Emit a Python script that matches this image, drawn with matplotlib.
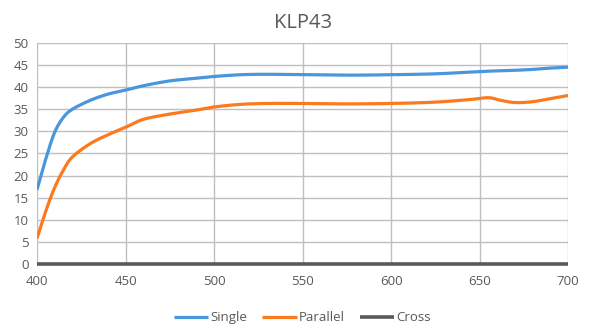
import matplotlib.pyplot as plt
import numpy as np

plt.rcParams['font.family'] = ['Open Sans', 'DejaVu Sans']

# Wavelength samples (nm)
wl = [400, 405, 410, 415, 420, 430, 440, 450, 460, 475, 490, 500, 515, 530,
      550, 575, 600, 625, 645, 655, 662, 670, 680, 690, 700]

single = [16.8, 23.8, 29.8, 33.2, 35.0, 37.0, 38.4, 39.3, 40.3, 41.4, 42.0, 42.4, 42.8, 42.9,
          42.8, 42.7, 42.8, 43.0, 43.4, 43.6, 43.7, 43.8, 44.0, 44.3, 44.5]

parallel = [5.8, 12.0, 17.3, 21.3, 24.2, 27.2, 29.2, 30.9, 32.7, 33.9, 34.8, 35.5, 36.1, 36.3,
            36.3, 36.2, 36.3, 36.6, 37.2, 37.6, 37.0, 36.5, 36.7, 37.4, 38.1]

cross = [0.0] * len(wl)


def smooth(x, y, n=12):
    # Catmull-Rom drawing of the points, like a spreadsheet "smoothed line"
    p = np.column_stack([x, y]).astype(float)
    p = np.vstack([p[0], p, p[-1]])
    out = []
    t = np.linspace(0, 1, n, endpoint=False)[:, None]
    for i in range(1, len(p) - 2):
        p0, p1, p2, p3 = p[i - 1], p[i], p[i + 1], p[i + 2]
        seg = 0.5 * ((2 * p1) + (-p0 + p2) * t + (2 * p0 - 5 * p1 + 4 * p2 - p3) * t ** 2
                     + (-p0 + 3 * p1 - 3 * p2 + p3) * t ** 3)
        out.append(seg)
    out.append(p[-2][None, :])
    out = np.vstack(out)
    return out[:, 0], out[:, 1]


fig = plt.figure(figsize=(5.9, 3.35), dpi=100)
ax = fig.add_axes([0.0627, 0.212, 0.9003, 0.66])

grid_c = '#bfbfbf'
txt_c = '#595959'

ax.plot(*smooth(wl, single), color='#4a96dc', lw=2.3, label='Single', solid_capstyle='butt')
ax.plot(*smooth(wl, parallel), color='#fb7a1e', lw=2.3, label='Parallel', solid_capstyle='butt')
ax.plot(wl, cross, color='#595959', lw=2.6, label='Cross', solid_capstyle='butt', clip_on=False)

ax.set_xlim(400, 700)
ax.set_ylim(0, 50)
ax.set_xticks(np.arange(400, 701, 50))
ax.set_yticks(np.arange(0, 51, 5))
ax.grid(True, color=grid_c, lw=1)
ax.set_axisbelow(True)
for s in ax.spines.values():
    s.set_visible(False)
ax.tick_params(length=0, colors=txt_c, labelsize=9.5)
ax.tick_params(axis='x', pad=8)
ax.tick_params(axis='y', pad=6)

ax.set_title('KLP43', color=txt_c, fontsize=14.5, pad=11)

leg = ax.legend(loc='upper center', bbox_to_anchor=(0.5, -0.16), ncol=3, frameon=False,
                fontsize=9.5, handlelength=2.6, columnspacing=1.1, handletextpad=0.2)
for t in leg.get_texts():
    t.set_color(txt_c)

fig.savefig('out.png', dpi=100)
